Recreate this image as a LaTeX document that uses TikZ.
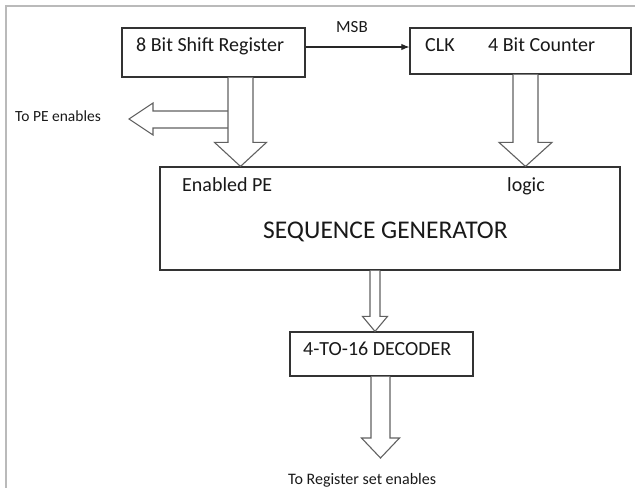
\documentclass[tikz,border=0pt]{standalone}
\usepackage{fontspec}
\setmainfont{Carlito}
\usetikzlibrary{calc,arrows.meta}

\tikzset{
  box/.style={draw=black!80, line width=1.2pt, fill=white, inner sep=0pt, rectangle},
  lbl/.style={inner sep=0pt, text=black!90, font=\fontsize{20}{24}\selectfont},
  small/.style={inner sep=0pt, text=black!90, font=\fontsize{16}{19}\selectfont},
  blk/.style={draw=black!62, line width=1.1pt, fill=white, line join=miter},
  wire/.style={draw=black!85, line width=1.1pt, -{Latex[length=8pt,width=6.5pt]}},
  frame/.style={draw=black!27, line width=1.6pt}
}

% downward block arrow: #1 source anchor, #2 tip anchor, #3 axis x,
% #4 shaft half-width, #5 head half-width, #6 head length
\newcommand\blockdown[6]{%
  \coordinate (ax) at (#3,0);
  \draw[blk] ($(ax |- #1)+(-#4,0)$) -- ($(ax |- #2)+(-#4,-#6)$)
    -- ($(ax |- #2)+(-#5,-#6)$) -- (ax |- #2) -- ($(ax |- #2)+(#5,-#6)$)
    -- ($(ax |- #2)+(#4,-#6)$) -- ($(ax |- #1)+(#4,0)$);
}

\begin{document}
\begin{tikzpicture}[x=1pt,y=-1pt]
\useasboundingbox (0,0) rectangle (635,488);

% page frame (top and left rules)
\draw[frame] (635,6) -- (6,6) -- (6,488);

% blocks
\node[box, minimum width=183pt, minimum height=49pt] (sr)  at (213.5,52.5) {};
\node[box, minimum width=221pt, minimum height=46pt] (cnt) at (520.5,51) {};
\node[box, minimum width=460pt, minimum height=103pt] (seq) at (390,218.5) {};
\node[box, minimum width=183pt, minimum height=44pt] (dec) at (381.5,354) {};

% free ends of the outgoing arrows
\coordinate (pe) at (129,119);
\coordinate (regout) at (380.5,458);

% MSB line into the counter clock
\coordinate (msb) at (0,47);
\draw[wire] (sr.east |- msb) -- (cnt.west |- msb);

% block arrows
\draw[blk] ($(pe)+(99,-8)$) -- ($(pe)+(24,-8)$) -- ($(pe)+(24,-16)$) -- (pe)
  -- ($(pe)+(24,16)$) -- ($(pe)+(24,9)$) -- ($(pe)+(99,9)$);
\blockdown{sr.south}{seq.north}{240.5}{12.5}{26}{24}
\blockdown{cnt.south}{seq.north}{525.5}{12.5}{26.5}{24}
\blockdown{seq.south}{dec.north}{375}{5}{12.5}{15}
\blockdown{dec.south}{regout}{380.5}{9.5}{19}{20}

% texts
\node[lbl, anchor=base west] (tsr) at (136,51) {8 Bit Shift Register};
\node[small, font=\fontsize{17}{20}\selectfont, anchor=base west] (tmsb) at (336,32) {MSB};
\node[lbl, anchor=base west] (tclk) at (425,51) {CLK};
\node[lbl, anchor=base west] (tcnt) at (488,51) {4 Bit Counter};
\node[small, font=\fontsize{15.5}{19}\selectfont, anchor=base west] (tpe) at (15,121) {To PE enables};
\node[lbl, anchor=base west] (ten) at (182,191) {Enabled PE};
\node[lbl, anchor=base west] (tlog) at (507,191) {logic};
\node[inner sep=0pt, text=black!90, font=\fontsize{25.5}{30}\selectfont, anchor=base west] (tseq) at (263,238) {SEQUENCE GENERATOR};
\node[lbl, anchor=base west] (tdec) at (303,355) {4-TO-16 DECODER};
\node[small, anchor=base west] (treg) at (288,484) {To Register set enables};
\end{tikzpicture}
\end{document}
